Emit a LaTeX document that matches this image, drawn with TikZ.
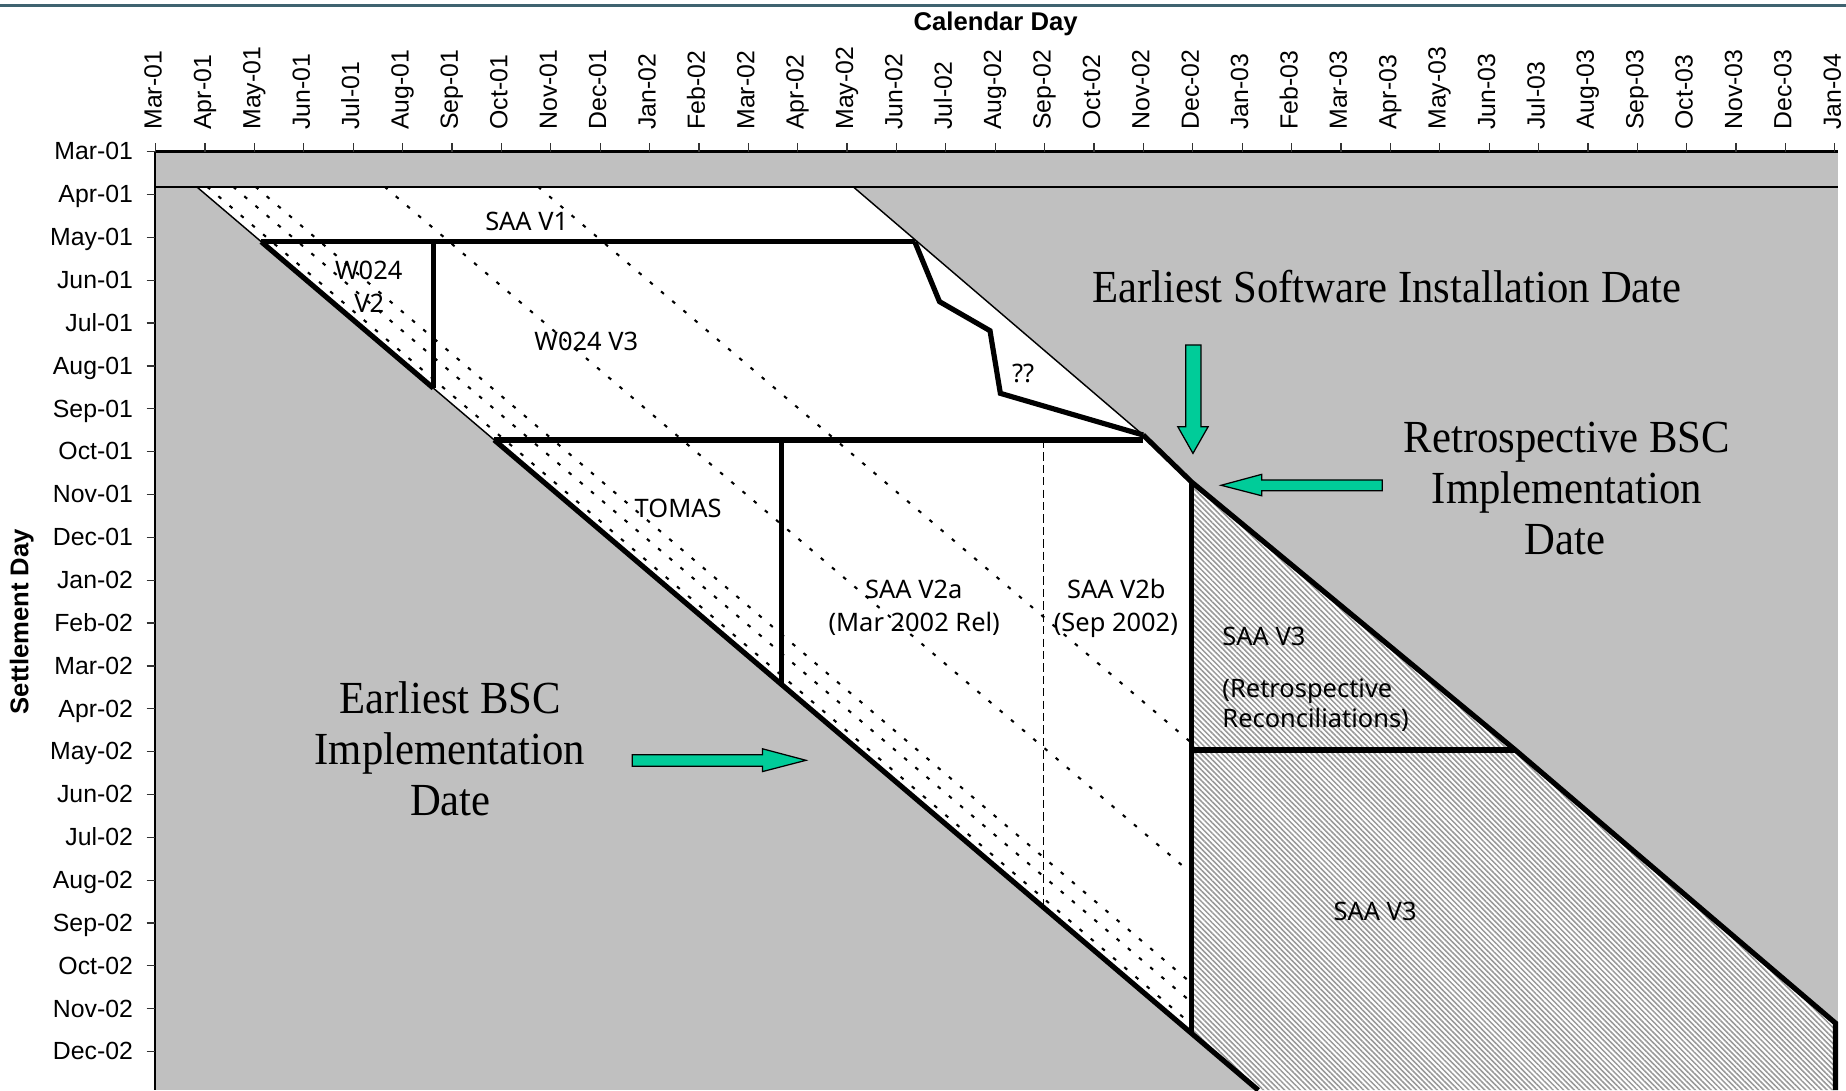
\documentclass[tikz,border=0pt]{standalone}
\usepackage{fontspec}
\setmainfont{Liberation Sans}
\newfontfamily\regfont{Noto Sans}
\newfontfamily\bigserif[FakeStretch=0.93]{Liberation Serif}
\usetikzlibrary{patterns.meta}
\definecolor{plotgray}{RGB}{192,192,192}
\definecolor{arrowgreen}{RGB}{0,204,153}
\definecolor{topline}{RGB}{63,99,112}
\tikzset{
  thinln/.style={line width=0.7pt},
  thickln/.style={line width=2.5pt, line join=miter},
  dotln/.style={line width=1pt, dash pattern=on 1.8pt off 5.3pt},
  dashln/.style={line width=0.7pt, dash pattern=on 4pt off 2pt},
  tickln/.style={line width=0.6pt, draw=black!80},
  ticklbl/.style={font=\fontsize{12}{14}\selectfont, inner sep=0pt},
  axtitle/.style={font=\fontsize{12.4}{15}\selectfont\bfseries, inner sep=0pt},
  reglbl/.style={font=\regfont\fontsize{12.3}{15}\selectfont, inner sep=0pt, anchor=base},
  biglbl/.style={font=\bigserif\fontsize{22.2}{25}\selectfont, inner sep=0pt, anchor=base},
  greenarrow/.style={fill=arrowgreen, draw=black, line width=0.6pt, line join=miter},
}
\begin{document}
\begin{tikzpicture}[x=0.02cm,y=-0.02cm]
\useasboundingbox (0,0) rectangle (1568,926);
\clip (0,0) rectangle (1568,926);
% top rule
\draw[topline, line width=1.3pt] (0,4.5) -- (1568,4.5);
% key points
\coordinate (P0) at (167,158.6);
\coordinate (PMay) at (221.9,205.3);
\coordinate (PW) at (368.1,329.7);
\coordinate (POct) at (419.8,373.7);
\coordinate (PT) at (664,581.5);
\coordinate (PD) at (886.2,770.6);
\coordinate (PV) at (1012.2,877.9);
\coordinate (PB) at (1068.8,926);
\coordinate (R0) at (724.6,158.6);
\coordinate (RMay) at (777,205.3);
\coordinate (ROct) at (971,369.5);
\coordinate (RV) at (1012.2,409.5);
\coordinate (RM) at (1287,637);
\coordinate (RE) at (1559,869);
\coordinate (RB) at (1559,926);
% plot area
\fill[plotgray] (131.8,128.8) rectangle (1561,926);
\fill[white] (P0) -- (R0) -- (ROct) -- (RV) -- (PV) -- cycle;
\fill[white] (RV) -- (RM) -- (RE) -- (RB) -- (PB) -- (PV) -- cycle;
\fill[pattern={Lines[angle=-45,distance=1.8pt,line width=0.75pt]}, pattern color=black!40]
  (RV) -- (RM) -- (RE) -- (RB) -- (PB) -- (PV) -- cycle;
% dotted settlement-run lines
\begin{scope}
  \clip (P0) -- (R0) -- (ROct) -- (RV) -- (PV) -- cycle;
  \foreach \d in {9,31,50,159.7,290}
    \draw[dotln] (167+\d,158.6) -- ++(900,765.9);
\end{scope}
% dashed vertical
\draw[dashln] (886.2,373.7) -- (PD);
% thin lines
\draw[line width=1.1pt] (131.8,158.6) -- (1561,158.6);
\draw[thinln] (P0) -- (PMay);
\draw[thinln] (PW) -- (POct);
\draw[thinln] (R0) -- (ROct);
% thick lines
\draw[thickln] (PMay) -- (RMay);
\draw[thickln] (PMay) -- (PW);
\draw[thickln] (368.1,205.3) -- (PW);
\draw[thickln] (POct) -- (ROct |- POct);
\draw[thickln] (POct) -- (PB);
\draw[thickln] (664,373.7) -- (PT);
\draw[thickln] (RMay) -- (798,256.2) -- (840.9,280.9) -- (849.7,334.1) -- (ROct);
\draw[thickln] (ROct) -- (RV) -- (RM) -- (RE) -- (RB);
\draw[thickln] (RV) -- (PV);
\draw[thickln] (1012.2,637) -- (RM);
% axes
\draw[line width=1.2pt] (131.8,128.8) -- (1561,128.8);
\draw[line width=1.2pt] (131.8,128.8) -- (131.8,926);
\foreach \lab [count=\i from 0] in {Mar-01,Apr-01,May-01,Jun-01,Jul-01,Aug-01,Sep-01,Oct-01,Nov-01,Dec-01,Jan-02,Feb-02,Mar-02,Apr-02,May-02,Jun-02,Jul-02,Aug-02,Sep-02,Oct-02,Nov-02,Dec-02,Jan-03,Feb-03,Mar-03,Apr-03,May-03,Jun-03,Jul-03,Aug-03,Sep-03,Oct-03,Nov-03,Dec-03,Jan-04}{
  \draw[tickln] (132.2+41.95*\i,121.7) -- (132.2+41.95*\i,128.8);
  \node[ticklbl, rotate=90, anchor=base west] (xl\i) at (132.2+41.95*\i+5.1,110.4) {\lab};
}
\foreach \lab [count=\i from 0] in {Mar-01,Apr-01,May-01,Jun-01,Jul-01,Aug-01,Sep-01,Oct-01,Nov-01,Dec-01,Jan-02,Feb-02,Mar-02,Apr-02,May-02,Jun-02,Jul-02,Aug-02,Sep-02,Oct-02,Nov-02,Dec-02}{
  \draw[tickln] (124.6,128.8+36.4*\i) -- (131.8,128.8+36.4*\i);
  \node[ticklbl, anchor=base east] (yl\i) at (113.3,128.8+36.4*\i+7.1) {\lab};
}
\node[axtitle, anchor=base] (caltitle) at (845.7,25.5) {Calendar Day};
\node[axtitle, rotate=90, anchor=base] (settitle) at (24.1,528) {Settlement Day};
% region labels
\node[reglbl] (saav1) at (447.4,195.4) {SAA V1};
\node[reglbl] (w024a) at (313.2,237.3) {W024};
\node[reglbl] (w024b) at (313.6,265.3) {V2};
\node[reglbl] (w024v3) at (498,297.8) {W024 V3};
\node[reglbl] (qq) at (869,325) {??};
\node[reglbl] (tomas) at (576,439.8) {TOMAS};
\node[reglbl] (v2a) at (776.2,508.2) {SAA V2a};
\node[reglbl] (v2ar) at (776.5,536) {(Mar 2002 Rel)};
\node[reglbl] (v2b) at (948.2,508.2) {SAA V2b};
\node[reglbl] (v2br) at (947.8,536) {(Sep 2002)};
\node[reglbl, anchor=base west] (v3a) at (1038,548.1) {SAA V3};
\node[reglbl, anchor=base west] (v3b) at (1038,592.8) {(Retrospective};
\node[reglbl, anchor=base west] (v3c) at (1038,618.1) {Reconciliations)};
\node[reglbl] (v3) at (1168,782) {SAA V3};
% big serif annotations
\node[biglbl] (esid) at (1178,257) {Earliest Software Installation Date};
\node[biglbl] (rb1) at (1331,384.5) {Retrospective BSC};
\node[biglbl] (rb2) at (1331,427.5) {Implementation};
\node[biglbl] (rb3) at (1329,471) {Date};
\node[biglbl] (eb1) at (382.2,606.2) {Earliest BSC};
\node[biglbl] (eb2) at (382.2,649.5) {Implementation};
\node[biglbl] (eb3) at (382.5,692.6) {Date};
% green arrows
\draw[greenarrow] (1007.1,293) -- (1020.1,293) -- (1020.1,362.4) -- (1026.2,362.4)
  -- (1013.3,385.1) -- (1000.4,362.4) -- (1007.1,362.4) -- cycle;
\draw[greenarrow] (1174,407.7) -- (1174,416.8) -- (1071.7,416.8) -- (1071.7,421.1)
  -- (1037.2,412.2) -- (1071.7,402.9) -- (1071.7,407.7) -- cycle;
\draw[greenarrow] (537,641) -- (647.6,641) -- (647.6,636) -- (684.6,645.8)
  -- (647.6,655.4) -- (647.6,650.9) -- (537,650.9) -- cycle;
\end{tikzpicture}
\end{document}
